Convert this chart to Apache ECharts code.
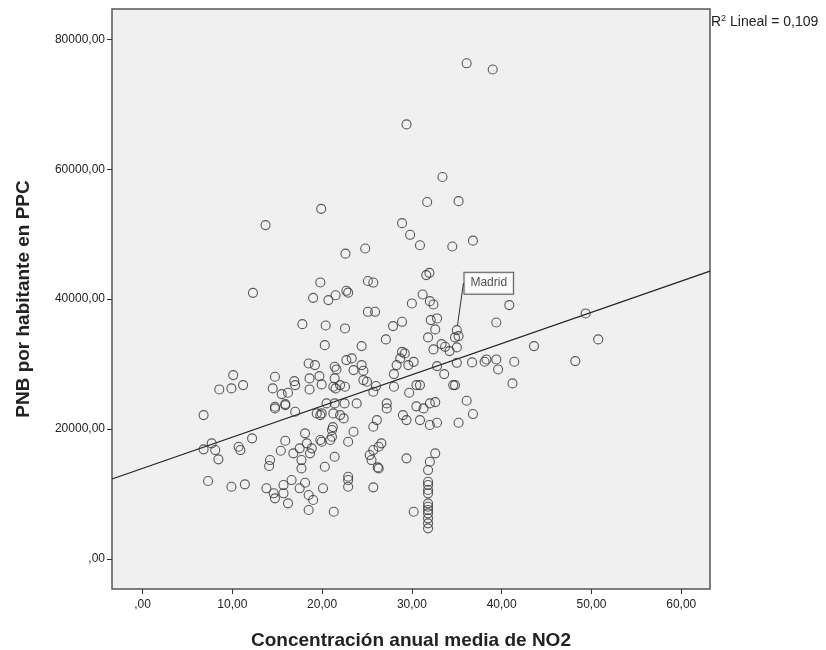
<!DOCTYPE html>
<html><head><meta charset="utf-8">
<script src="https://cdn.jsdelivr.net/npm/echarts@6/dist/echarts.min.js"></script>
<style>html,body{margin:0;padding:0;background:#fff}#c{width:826px;height:650px}</style>
</head><body><div id="c"></div>
<script>
// Concentración anual media de NO2 (x) and PNB por habitante en PPC (y)
const no2 = [
36.1,39.0,29.4,33.4,31.7,35.2,19.9,13.7,28.9,29.8,30.9,34.5,36.8,22.6,24.8,
31.6,31.95,25.1,25.7,19.8,19.0,20.7,21.5,22.7,22.9,12.3,31.2,30.0,32.0,32.4,
25.1,25.9,17.8,20.4,32.1,32.8,27.9,28.9,22.55,32.6,27.1,31.8,34.8,35.2,20.3,
24.4,32.4,33.3,33.7,34.2,35.0,28.9,29.2,30.2,28.7,28.3,29.6,22.7,23.3,21.4,
21.6,24.4,24.6,23.5,32.8,35.0,36.7,33.6,28.0,24.6,25.0,21.4,21.25,22.55,22.0,
26.0,25.7,30.5,30.9,34.6,34.8,28.0,29.7,36.1,18.5,19.2,10.1,8.55,9.9,11.2,
14.75,14.5,15.5,16.2,16.9,17.0,18.6,18.6,19.7,19.95,21.5,14.75,15.9,20.5,21.4,
22.5,23.85,27.2,30.5,32.0,32.6,27.2,31.3,36.8,35.2,29.0,29.4,30.9,32.0,32.8,
21.25,22.0,22.4,19.95,25.7,26.1,23.5,22.9,21.1,21.1,20.9,19.95,26.6,26.3,25.7,
25.3,25.5,26.3,26.2,21.4,20.3,22.9,22.9,22.9,25.7,20.1,29.4,32.6,32.0,31.8,
31.8,31.8,31.8,31.8,31.8,31.8,31.8,31.8,31.8,31.8,31.8,30.2,21.3,6.8,14.75,
15.9,17.0,19.4,19.8,6.8,7.7,8.1,8.45,10.7,10.9,12.2,7.3,9.9,11.4,15.9,
15.4,14.2,14.1,18.1,18.3,17.5,16.8,17.7,18.65,18.85,17.7,19.8,21.2,13.8,14.6,
14.75,15.7,15.7,16.2,16.6,17.5,18.1,18.5,19.0,18.5,40.85,39.4,49.35,50.75,43.6,
48.2,41.4,39.6,39.4,38.3,38.1,41.2
];
const pnb = [
76300,75350,66900,58800,54950,55080,53900,51400,51700,49900,48300,48100,49000,47000,47800,
43700,44050,42800,42550,42570,40200,39850,40600,41280,41000,40970,40720,39340,39690,39180,
38050,38050,36150,35950,36770,37030,35850,36510,35490,35340,33800,34110,34110,34310,32920,
32770,32260,33080,32660,32000,32570,31890,31650,30350,30880,29850,29850,30620,30880,29590,
29180,29850,28970,29080,29690,30200,30260,28460,28460,27540,27280,27800,26510,26510,26770,
26620,25740,26770,26770,26770,26770,26510,25590,24360,30100,29850,28310,26100,26260,26770,
28050,26260,25380,25590,27380,26770,27800,26100,28150,26880,26260,23430,23850,23950,23950,
23950,23950,23950,23500,23950,24150,23180,23180,22310,20970,22150,21380,21380,20620,20970,
22410,22150,21640,22410,20350,21380,19590,18050,19850,18820,18310,18050,17800,17280,16770,
16000,15230,13950,14100,15740,14200,12660,12150,11120,11030,10880,15490,16260,14970,13690,
11890,11380,10620,10110,8570,8050,7540,7030,6260,5490,4720,7280,7280,22150,23180,
23690,22660,22410,22150,16880,17800,16770,15340,17280,16770,18570,12000,11120,11490,18200,
16660,15230,14310,19340,17800,17030,16260,15230,16260,17030,13950,18310,20300,10880,10110,
9340,11380,10110,8570,12150,10880,11740,9850,9080,7540,39080,36410,37800,33800,32770,
30460,30360,29180,30720,30720,30360,27030
];
const madridName = 'Madrid';
const madridNo2 = 35.0;
const madridPnb = 35230;
const xTicks = [0, 10, 20, 30, 40, 50, 60];
const yTicks = [0, 20000, 40000, 60000, 80000];
const fitIntercept = 13940;
const fitSlope = 480.5;
const xRange = [-3.4, 63.2];
const yRange = [-4617, 84660];
const r2Text = '0,109';

const pts = no2.map((x, i) => [x, pnb[i]]);
const fitLine = xRange.map(x => [x, fitIntercept + fitSlope * x]);
const fmt = v => (v === 0 ? '' : String(v)) + ',00';
const font = 'Arial, "Liberation Sans", sans-serif';

const chart = echarts.init(document.getElementById('c'), null, {renderer: 'canvas'});
const symStyle = {color: 'rgba(0,0,0,0)', borderColor: '#333', borderWidth: 1.1};
chart.setOption({
  animation: false,
  backgroundColor: '#fff',
  textStyle: {fontFamily: font},
  grid: {left: 112, right: 116, top: 9, bottom: 61, show: true, containLabel: false,
         outerBoundsMode: 'none',
         backgroundColor: '#f0f0f0', borderColor: '#555', borderWidth: 1.5},
  xAxis: {
    type: 'value', min: xRange[0], max: xRange[1],
    name: 'Concentración anual media de NO2', nameLocation: 'middle', nameGap: 42,
    nameTextStyle: {fontSize: 19, fontWeight: 'bold', color: '#222', fontFamily: font},
    axisLine: {show: false, onZero: false},
    axisTick: {show: true, length: 5, customValues: xTicks, lineStyle: {color: '#333'}},
    axisLabel: {customValues: xTicks, formatter: fmt, fontSize: 12, color: '#222', margin: 10},
    splitLine: {show: false}
  },
  yAxis: {
    type: 'value', min: yRange[0], max: yRange[1],
    name: 'PNB por habitante en PPC', nameLocation: 'middle', nameGap: 79,
    nameTextStyle: {fontSize: 19, fontWeight: 'bold', color: '#222', fontFamily: font},
    axisLine: {show: false, onZero: false},
    axisTick: {show: true, length: 5, customValues: yTicks, lineStyle: {color: '#333'}},
    axisLabel: {customValues: yTicks, formatter: fmt, fontSize: 12, color: '#222', margin: 7},
    splitLine: {show: false}
  },
  series: [
    {type: 'line', data: fitLine, symbol: 'none', lineStyle: {color: '#222', width: 1.2}, z: 3, silent: true},
    {type: 'scatter', data: pts, symbol: 'circle', symbolSize: 9, itemStyle: symStyle, z: 4},
    {type: 'scatter', data: [{name: madridName, value: [madridNo2, madridPnb]}], symbol: 'circle', symbolSize: 9,
     itemStyle: symStyle, z: 5,
     label: {show: true, position: 'inside', formatter: '{b}', fontSize: 12, color: '#222',
             backgroundColor: '#fff', borderColor: '#333', borderWidth: 1, padding: [5, 6, 4, 6]},
     labelLayout: {dx: 32, dy: -47},
     labelLine: {show: true, lineStyle: {color: '#333', width: 1}}}
  ],
  graphic: [{
    type: 'text', left: 711, top: 14,
    style: {text: '{a|R}{b|2}{a| Lineal = ' + r2Text + '}',
            rich: {a: {fontSize: 14, fill: '#222', fontFamily: font},
                   b: {fontSize: 9, fill: '#222', fontFamily: font, padding: [0, 0, 7, 0]}}}
  }]
});
</script></body></html>
